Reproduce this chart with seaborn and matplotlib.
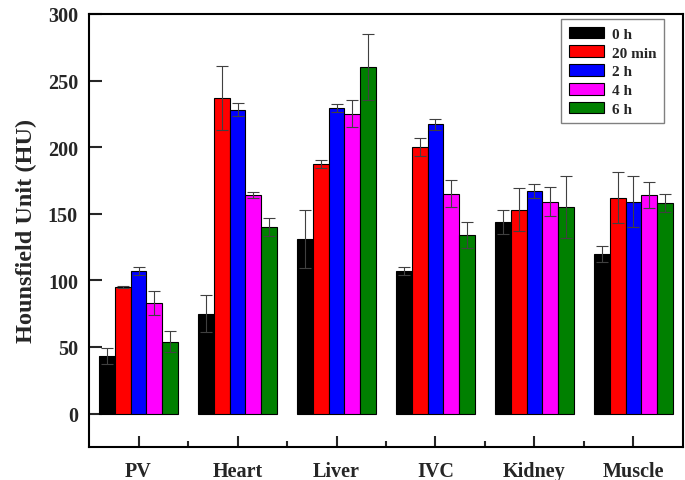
import numpy as np
import pandas as pd
import matplotlib
matplotlib.use('Agg')
import matplotlib.pyplot as plt
from matplotlib.ticker import MultipleLocator, FixedLocator
import seaborn as sns

# Datos
organs = ['PV', 'Heart', 'Liver', 'IVC', 'Kidney', 'Muscle']
times = ['0 h', '20 min', '2 h', '4 h', '6 h']
colors = ['#000000', '#FF0000', '#0000FF', '#FF00FF', '#008000']

hu_0h = [43, 75, 131, 107, 144, 120]
hu_20min = [95, 237, 187, 200, 153, 162]
hu_2h = [107, 228, 229, 217, 167, 159]
hu_4h = [83, 164, 225, 165, 159, 164]
hu_6h = [54, 140, 260, 134, 155, 158]

err_0h = [6, 14, 22, 3, 9, 6]
err_20min = [1, 24, 3, 7, 16, 19]
err_2h = [3, 5, 3, 4, 5, 19]
err_4h = [9, 2, 10, 10, 11, 10]
err_6h = [8, 7, 25, 10, 23, 7]

values = [hu_0h, hu_20min, hu_2h, hu_4h, hu_6h]
errors = [err_0h, err_20min, err_2h, err_4h, err_6h]

rows = []
for t, vals in zip(times, values):
    for o, v in zip(organs, vals):
        rows.append({'organ': o, 'time': t, 'hu': v})
data = pd.DataFrame(rows)

sns.set_style('ticks')
plt.rcParams['font.family'] = ['Liberation Serif', 'DejaVu Serif']
plt.rcParams['font.weight'] = 'bold'

fig = plt.figure(figsize=(6.85, 4.81), dpi=100)
ax = fig.add_axes([0.130, 0.069, 0.867, 0.900])

sns.barplot(data=data, x='organ', y='hu', hue='time', order=organs, hue_order=times,
            palette=colors, width=0.8, edgecolor='black', linewidth=0.8,
            errorbar=None, ax=ax, saturation=1)

# Barras de error sobre cada barra
for cont, errs in zip(ax.containers, errors):
    for patch, e in zip(cont.patches, errs):
        xc = patch.get_x() + patch.get_width() / 2
        ax.errorbar(xc, patch.get_height(), yerr=e, color='#404040',
                    elinewidth=0.8, capsize=4, capthick=0.8, fmt='none')

ax.set_xlim(-0.5, 5.5)
ax.set_ylim(-25, 300)
ax.yaxis.set_major_locator(MultipleLocator(50))
ax.xaxis.set_minor_locator(FixedLocator([0.5, 1.5, 2.5, 3.5, 4.5]))

for s in ax.spines.values():
    s.set_visible(True)
    s.set_linewidth(1.5)
    s.set_color('black')

ax.tick_params(axis='y', which='major', direction='in', length=9, width=1.5,
               labelsize=14.5, pad=8)
ax.tick_params(axis='x', which='major', direction='in', length=8, width=1.5,
               labelsize=14.5, pad=10)
ax.tick_params(axis='x', which='minor', direction='in', length=4, width=1.5)

for lbl in ax.get_xticklabels() + ax.get_yticklabels():
    lbl.set_fontweight('bold')

ax.set_xlabel('')
ax.set_ylabel('Hounsfield Unit (HU)', fontsize=17.5, fontweight='bold', labelpad=8)

leg = ax.legend(loc='upper right', bbox_to_anchor=(0.968, 0.988), borderaxespad=0,
                fancybox=False, edgecolor='#808080', framealpha=1,
                prop={'size': 11, 'weight': 'bold'},
                handlelength=2.3, handleheight=0.8, borderpad=0.5, labelspacing=0.3,
                handletextpad=0.5)
leg.get_frame().set_linewidth(1.0)
leg.set_title(None)

fig.savefig('out.png', dpi=100)
